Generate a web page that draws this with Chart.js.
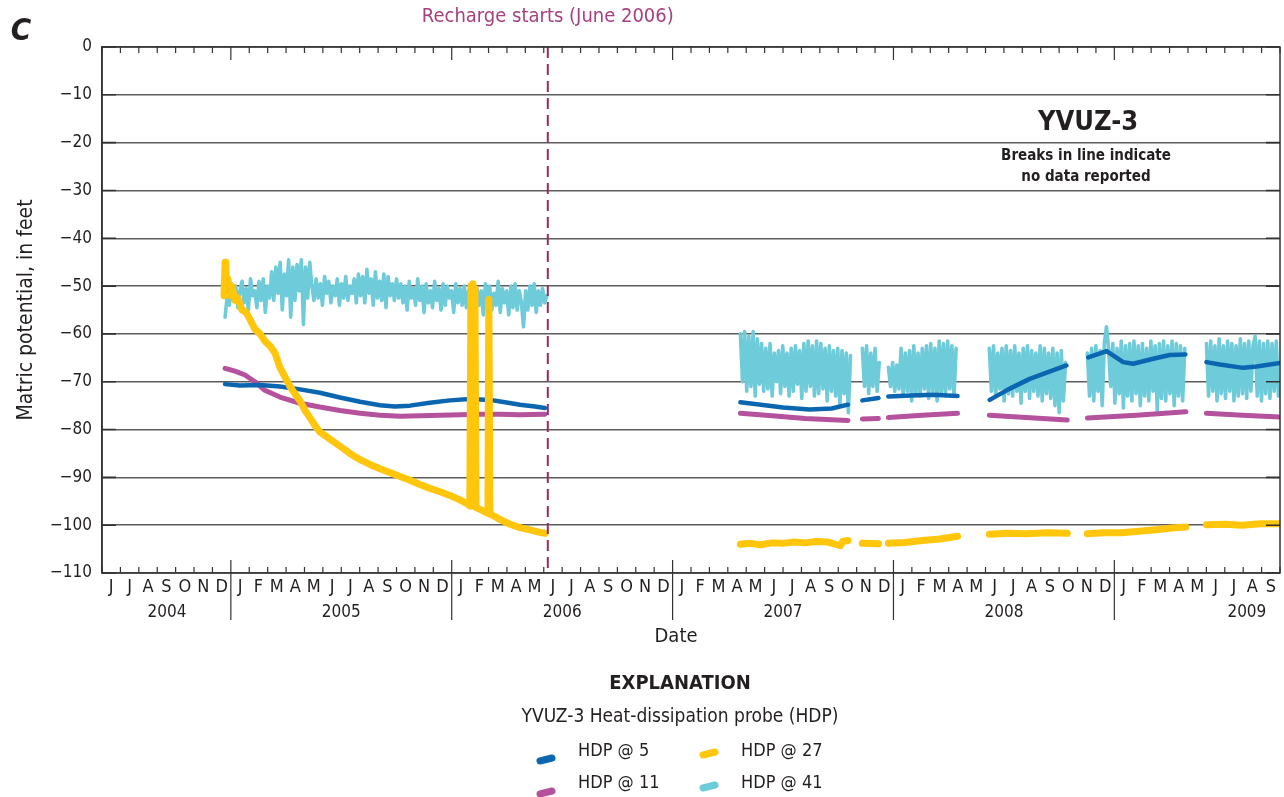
<!DOCTYPE html>
<html>
<head>
<meta charset="utf-8">
<script src="https://cdn.jsdelivr.net/npm/chart.js@4.4.0/dist/chart.umd.min.js"></script>
<style>
body { margin: 0; background: #fff; }
canvas { display: block; }
</style>
</head>
<body>
<canvas id="chart" width="1284" height="797"></canvas>
<script>
// x values are decimal years (2004.4167 = 1 June 2004)
var startYear = 2004 + 5 / 12;
var endYear = 2009.75;
var rechargeDate = 2006.435;
var monthLetters = ['J', 'F', 'M', 'A', 'M', 'J', 'J', 'A', 'S', 'O', 'N', 'D'];
var yearLabels = ['2004', '2005', '2006', '2007', '2008', '2009'];
var yearLabelAt = [2004.711, 2005.5, 2006.5, 2007.5, 2008.5, 2009.6];
var yTicks = [0, -10, -20, -30, -40, -50, -60, -70, -80, -90, -100, -110];

// HDP @ 5  [date, matric potential] (null = no data reported)
var hdp5 = [
  [2004.974, -70.5], [2005.041, -70.8], [2005.132, -70.7], [2005.222, -71.0], [2005.313, -71.6],
  [2005.403, -72.3], [2005.494, -73.3], [2005.585, -74.2], [2005.675, -74.9], [2005.743, -75.2],
  [2005.811, -75.0], [2005.901, -74.4], [2005.992, -73.9], [2006.082, -73.6], [2006.173, -73.8],
  [2006.241, -74.3], [2006.309, -74.8], [2006.377, -75.2], [2006.422, -75.5],
  [2006.8, null],
  [2007.307, -74.3], [2007.40, -74.8], [2007.50, -75.4], [2007.62, -75.8], [2007.72, -75.6], [2007.794, -74.8],
  [2007.83, null],
  [2007.859, -73.9], [2007.932, -73.4],
  [2007.95, null],
  [2007.977, -73.1], [2008.08, -72.9], [2008.18, -72.7], [2008.29, -73.0],
  [2008.36, null],
  [2008.436, -73.8], [2008.52, -71.6], [2008.617, -69.4], [2008.70, -68.0], [2008.783, -66.6],
  [2008.83, null],
  [2008.882, -64.9], [2008.965, -63.6], [2009.040, -65.9], [2009.085, -66.25], [2009.176, -65.2],
  [2009.251, -64.4], [2009.322, -64.3],
  [2009.37, null],
  [2009.417, -65.9], [2009.478, -66.4], [2009.583, -67.1], [2009.644, -66.8], [2009.75, -66.1]
];

// HDP @ 11
var hdp11 = [
  [2004.974, -67.2], [2005.019, -67.8], [2005.064, -68.6], [2005.109, -70.0], [2005.154, -71.8],
  [2005.222, -73.2], [2005.313, -74.5], [2005.403, -75.3], [2005.494, -76.0], [2005.585, -76.6],
  [2005.675, -77.0], [2005.766, -77.2], [2005.856, -77.1], [2005.947, -77.0], [2006.037, -76.9],
  [2006.128, -76.8], [2006.218, -76.8], [2006.309, -76.9], [2006.422, -76.8],
  [2006.8, null],
  [2007.307, -76.6], [2007.45, -77.1], [2007.6, -77.7], [2007.794, -78.1],
  [2007.83, null],
  [2007.859, -77.8], [2007.932, -77.7],
  [2007.95, null],
  [2007.977, -77.5], [2008.13, -77.0], [2008.29, -76.6],
  [2008.36, null],
  [2008.434, -77.0], [2008.6, -77.5], [2008.787, -78.0],
  [2008.83, null],
  [2008.878, -77.6], [2009.1, -77.0], [2009.324, -76.3],
  [2009.37, null],
  [2009.417, -76.6], [2009.58, -77.0], [2009.75, -77.4]
];

// HDP @ 27
var hdp27 = [
  [2004.969, -52], [2004.974, -45], [2004.978, -50], [2004.987, -48.5], [2004.996, -52],
  [2005.005, -50], [2005.019, -53], [2005.032, -52.5], [2005.050, -55], [2005.069, -55.5],
  [2005.087, -57], [2005.109, -59], [2005.132, -60], [2005.154, -61.5], [2005.177, -62.5],
  [2005.200, -64], [2005.222, -67], [2005.245, -69], [2005.268, -71], [2005.290, -72.5],
  [2005.313, -74], [2005.336, -76], [2005.358, -77.5], [2005.381, -79.2], [2005.403, -80.5],
  [2005.449, -82], [2005.494, -83.5], [2005.539, -85], [2005.585, -86.3], [2005.630, -87.3],
  [2005.675, -88.2], [2005.720, -89], [2005.766, -89.8], [2005.811, -90.6], [2005.856, -91.5],
  [2005.901, -92.3], [2005.947, -93.0], [2005.992, -93.8], [2006.037, -94.7], [2006.073, -95.6],
  [2006.082, -96], [2006.087, -50], [2006.092, -96], [2006.096, -49.5], [2006.101, -96],
  [2006.105, -50.5], [2006.110, -96.3], [2006.128, -96.7], [2006.164, -97.5], [2006.168, -52.8],
  [2006.173, -97.7], [2006.196, -98.2], [2006.218, -98.8], [2006.264, -99.8], [2006.309, -100.5],
  [2006.354, -101], [2006.399, -101.5], [2006.422, -101.7],
  [2006.8, null],
  [2007.307, -104.0], [2007.35, -103.8], [2007.4, -104.1], [2007.45, -103.7], [2007.5, -103.8],
  [2007.55, -103.5], [2007.6, -103.7], [2007.65, -103.4], [2007.7, -103.5], [2007.76, -104.3],
  [2007.77, -103.4], [2007.794, -103.2],
  [2007.83, null],
  [2007.859, -103.8], [2007.932, -103.9],
  [2007.95, null],
  [2007.977, -103.8], [2008.05, -103.6], [2008.13, -103.2], [2008.21, -102.9], [2008.29, -102.3],
  [2008.36, null],
  [2008.434, -101.9], [2008.52, -101.7], [2008.6, -101.8], [2008.7, -101.6], [2008.787, -101.7],
  [2008.83, null],
  [2008.878, -101.8], [2008.95, -101.6], [2009.03, -101.6], [2009.1, -101.3], [2009.2, -100.9],
  [2009.26, -100.6], [2009.324, -100.4],
  [2009.37, null],
  [2009.417, -99.9], [2009.5, -99.8], [2009.58, -100.0], [2009.66, -99.7], [2009.75, -99.7]
];

// HDP @ 41 - readings every 3.5 days, one array per run of data
var sampleStep = 3.5 / 365.25;
var hdp41Starts = [2004.974, 2007.307, 2007.859, 2007.977, 2008.434, 2008.878, 2009.417];
var hdp41Pre = [
  -56.5, -52, -54, -49.5, -53, -50, -54.5, -51,
  -49, -53.5, -50.5, -55, -48.5, -52, -51, -54.5, -49, -53, -48.5, -55.5, -50, -52.5,
  -47, -53, -46, -51.5, -45, -55, -47.5, -52, -44.5, -56.5, -46, -53, -45.5, -51, -44.5, -58, -46, -52.5, -45,
  -50, -53, -48.5, -52.5, -49.5, -54, -48, -51.5, -49, -53.5, -50, -52, -48.5, -54, -49.5, -52.5, -48, -53, -50, -51.5, -48.5, -53.5,
  -47.5, -52, -48, -53.5, -46.5, -51.5, -48.5, -54, -47, -52.5, -49, -53, -47.5, -54.5, -48, -52, -49.5, -53, -48.5, -52.5,
  -49.5, -53.5, -50, -55, -49, -52.5, -50.5, -54, -48.5, -53, -50, -55.5, -49.5, -53.5, -51, -54.5, -49, -53, -50.5, -55,
  -49.5, -54, -50, -52.5, -51, -55.5, -49.5, -53.5, -50.5, -54,
  -50, -54.5, -51, -53.5, -49.5, -55, -50.5, -54, -51, -56, -49.5, -53.5, -50, -55, -51.5, -54, -49, -55.5, -50.5, -53.5,
  -51, -56, -50, -54.5, -49.5, -55, -51, -53.5,
  -58.5, -51, -55, -50, -54, -49.5, -55.5, -51, -54, -50.5, -53.5, -52
];
var hdp41Run1 = [-60, -70, -59.5, -72, -60.5, -71, -59.5, -73, -61, -70.5, -62, -72, -63, -71.5, -62, -73,
  -64, -70, -63.5, -72.5, -62.5, -71, -64, -73, -63, -72, -62.5, -70.5, -63.5, -73.5, -62, -72, -61.5, -71,
  -62.5, -73, -61.5, -72.5, -62, -71.5, -63, -74, -62.5, -72, -63.5, -73, -63, -75, -63.5, -72.5, -64, -76.5, -64.5];
var hdp41Run2 = [-63, -71, -62.5, -72.5, -64, -71, -63, -72, -66];
var hdp41Run3 = [-67, -71, -66, -72, -66.5, -71.5, -63, -73, -64, -72, -63.5, -74, -62.5, -72.5, -64, -73, -63,
  -71.5, -62.5, -73.5, -62, -72, -63, -74, -61.5, -72.5, -62, -73, -61.5, -71.5, -62.5, -73, -63];
var hdp41Run4 = [-63, -72, -62.5, -73, -64, -71.5, -63, -74, -62.5, -72.5, -63.5, -73, -62.5, -72, -64, -74.5,
  -63, -72, -62.5, -73.5, -63.5, -72, -64, -73, -62.5, -74, -63, -72.5, -64, -73.5, -63, -75, -64, -76.5, -63.5, -74, -66];
var hdp41Run5 = [-64, -73, -63, -74, -62.5, -72, -63.5, -75, -62, -58.5, -63, -71, -62, -74.5, -63, -72.5, -61.5,
  -75.5, -62.5, -73, -62, -74, -61.5, -72.5, -62.5, -75, -62, -73, -63, -74, -61.5, -72, -62.5, -76, -62, -73.5,
  -61.5, -74, -62.5, -72.5, -61.5, -75, -62, -73, -62.5, -74, -63];
var hdp41Run6 = [-62, -73, -61.5, -72, -62.5, -74, -61, -72.5, -62.5, -73.5, -61.5, -72, -62, -74, -62.5, -73,
  -61, -72.5, -62, -73.5, -61.5, -72, -62.5, -60.5, -73, -61.5, -74, -62, -72.5, -61.5, -73.5, -62, -72, -61.5, -73];

var FONT = "'Liberation Sans Narrow', 'DejaVu Sans Condensed', 'Liberation Sans', sans-serif";
var TEXT = '#231f20';

function toPoints(pairs) {
  return pairs.map(function (p) { return { x: p[0], y: p[1] }; });
}

function sampledPoints(starts, runs) {
  var pts = [];
  runs.forEach(function (run, k) {
    if (k > 0) pts.push({ x: starts[k] - 0.005, y: null });
    run.forEach(function (v, i) { pts.push({ x: starts[k] + i * sampleStep, y: v }); });
  });
  return pts;
}

var series = [
  { label: 'HDP @ 5', color: '#0b66b1', width: 4.5, order: 2, data: toPoints(hdp5) },
  { label: 'HDP @ 11', color: '#b5529d', width: 5, order: 3, data: toPoints(hdp11) },
  { label: 'HDP @ 27', color: '#ffc60b', width: 7, order: 1, data: toPoints(hdp27) },
  { label: 'HDP @ 41', color: '#6ecbd9', width: 3.6, order: 4,
    data: sampledPoints(hdp41Starts, [hdp41Pre, hdp41Run1, hdp41Run2, hdp41Run3, hdp41Run4, hdp41Run5, hdp41Run6]) }
];

function text(c, s, x, y, font, color, align) {
  c.font = font;
  c.fillStyle = color || TEXT;
  c.textAlign = align || 'center';
  c.textBaseline = 'middle';
  c.fillText(s, x, y);
}

var decorPlugin = {
  id: 'decor',
  afterDatasetsDraw: function (chart) {
    var c = chart.ctx, a = chart.chartArea, xs = chart.scales.x, ys = chart.scales.y;
    c.save();

    // recharge line
    var rx = xs.getPixelForValue(rechargeDate);
    c.strokeStyle = '#9c2a62';
    c.lineWidth = 2;
    c.setLineDash([11, 6]);
    c.beginPath(); c.moveTo(rx, a.top); c.lineTo(rx, a.bottom); c.stroke();
    c.setLineDash([]);
    text(c, 'Recharge starts (June 2006)', rx, 17, '20px ' + FONT, '#a8407f');

    // frame
    c.strokeStyle = '#333';
    c.lineWidth = 1.5;
    c.strokeRect(a.left, a.top, a.right - a.left, a.bottom - a.top);

    // y ticks inside on both sides
    c.lineWidth = 1.6;
    yTicks.forEach(function (v) {
      var py = ys.getPixelForValue(v);
      c.beginPath();
      c.moveTo(a.left, py); c.lineTo(a.left + 14, py);
      c.moveTo(a.right - 14, py); c.lineTo(a.right, py);
      c.stroke();
    });

    // month ticks, letters and year separators
    c.lineWidth = 1.2;
    for (var m = 0; ; m++) {
      var yr = startYear + m / 12;
      if (yr > endYear + 1e-6) break;
      var px = xs.getPixelForValue(yr);
      var mi = (5 + m) % 12;
      var len = mi === 0 ? 13 : 6;
      c.strokeStyle = '#333';
      c.beginPath();
      c.moveTo(px, a.top); c.lineTo(px, a.top + len);
      c.moveTo(px, a.bottom); c.lineTo(px, a.bottom - len);
      if (mi === 0) { c.moveTo(px, a.bottom); c.lineTo(px, a.bottom + 47); }
      c.stroke();
      if (yr + 1 / 12 <= endYear + 1e-6) {
        text(c, monthLetters[mi], xs.getPixelForValue(yr + 1 / 24), a.bottom + 14, '18px ' + FONT);
      }
    }
    yearLabels.forEach(function (s, i) {
      text(c, s, xs.getPixelForValue(yearLabelAt[i]), a.bottom + 40, '17px ' + FONT);
    });
    text(c, 'Date', (a.left + a.right) / 2 - 15, a.bottom + 64, '20px ' + FONT);

    // panel letter and site note
    text(c, 'C', 21, 32, 'italic bold 31px ' + FONT);
    text(c, 'YVUZ-3', 1088, 123, 'bold 27px ' + FONT);
    text(c, 'Breaks in line indicate', 1086, 156, 'bold 15px ' + FONT);
    text(c, 'no data reported', 1086, 177, 'bold 15px ' + FONT);

    // explanation
    text(c, 'EXPLANATION', 680, 684, 'bold 20px ' + FONT);
    text(c, 'YVUZ-3 Heat-dissipation probe (HDP)', 680, 717, '19px ' + FONT);
    var spots = [[546, 759, 578, 751], [546, 792, 578, 783], [709, 753, 741, 751], [709, 786, 741, 783]];
    series.forEach(function (s, i) {
      var p = spots[i];
      c.strokeStyle = s.color;
      c.lineWidth = 7;
      c.lineCap = 'round';
      c.beginPath(); c.moveTo(p[0] - 6, p[1] + 2); c.lineTo(p[0] + 6, p[1] - 1); c.stroke();
      text(c, s.label, p[2], p[3], '18px ' + FONT, TEXT, 'left');
    });
    c.restore();
  }
};

var ctx = document.getElementById('chart').getContext('2d');
var chart = new Chart(ctx, {
  type: 'line',
  data: {
    datasets: series.map(function (s) {
      return {
        label: s.label,
        data: s.data,
        borderColor: s.color,
        backgroundColor: s.color,
        borderWidth: s.width,
        order: s.order,
        pointRadius: 0,
        tension: 0,
        spanGaps: false,
        borderJoinStyle: 'round',
        borderCapStyle: 'round'
      };
    })
  },
  options: {
    responsive: false,
    animation: false,
    layout: { padding: { top: 47, right: 4, bottom: 224, left: 0 } },
    plugins: { legend: { display: false }, tooltip: { enabled: false } },
    scales: {
      x: { type: 'linear', min: startYear, max: endYear, display: false },
      y: {
        min: -110,
        max: 0,
        afterFit: function (s) { s.width = 102; },
        afterBuildTicks: function (s) { s.ticks = yTicks.map(function (v) { return { value: v }; }); },
        ticks: {
          padding: 10,
          color: TEXT,
          font: { family: FONT, size: 17 },
          callback: function (v) { return String(v).replace('-', '\u2212'); }
        },
        grid: { color: '#5c5c5c', lineWidth: 1.4, drawTicks: false },
        border: { display: true, color: '#333', width: 1.5 },
        title: {
          display: true,
          text: 'Matric potential, in feet',
          color: TEXT,
          font: { family: FONT, size: 21 },
          padding: { top: 14, bottom: 0 }
        }
      }
    }
  },
  plugins: [decorPlugin]
});
</script>
</body>
</html>
